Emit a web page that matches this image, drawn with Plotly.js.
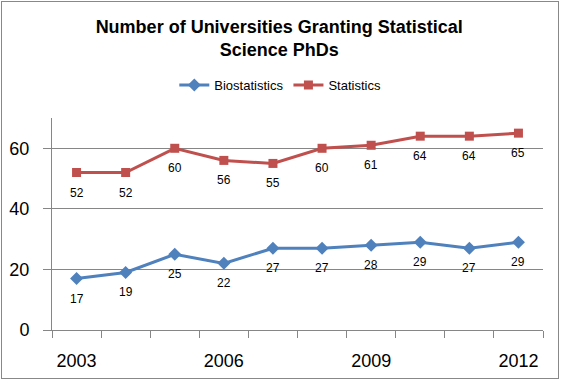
<!DOCTYPE html>
<html>
<head>
<meta charset="utf-8">
<script src="https://cdn.plot.ly/plotly-3.0.1.min.js"></script>
<style>
  html, body { margin: 0; padding: 0; background: #fff; }
  #wrap { position: relative; width: 564px; height: 383px; }
  #chart { position: absolute; left: 0; top: 0; width: 564px; height: 383px; }
  #frame { position: absolute; left: 1px; top: 1px; width: 556px; height: 376px;
           border: 1px solid #888888; pointer-events: none; }
</style>
</head>
<body>
<div id="wrap">
  <div id="chart"></div>
  <div id="frame"></div>
</div>
<script>
const years = [2003, 2004, 2005, 2006, 2007, 2008, 2009, 2010, 2011, 2012];
const biostatistics = [17, 19, 25, 22, 27, 27, 28, 29, 27, 29];
const statistics = [52, 52, 60, 56, 55, 60, 61, 64, 64, 65];
const xTickVals = [2003, 2006, 2009, 2012];
const xTickText = ['2003', '2006', '2009', '2012'];
const yTickVals = [0, 20, 40, 60];

const gray = '#868686';
const fontFam = 'Liberation Sans, Arial, sans-serif';
const boundaries = [years[0] - 0.5].concat(years.map(y => y + 0.5));

const traces = [
  {
    x: years, y: biostatistics, name: 'Biostatistics',
    type: 'scatter', mode: 'lines+markers',
    line: {color: '#4F81BD', width: 3},
    marker: {symbol: 'diamond', size: 10, color: '#4F81BD'}
  },
  {
    x: years, y: statistics, name: 'Statistics',
    type: 'scatter', mode: 'lines+markers',
    line: {color: '#C0504D', width: 3},
    marker: {symbol: 'square', size: 9, color: '#C0504D'}
  }
];

const labelAnn = (xs, ys) => xs.map((x, i) => ({
  x: x, y: ys[i], xref: 'x', yref: 'y', text: String(ys[i]),
  showarrow: false, yshift: -20, xanchor: 'center', yanchor: 'middle',
  font: {family: fontFam, size: 12, color: '#000'}
}));

const layout = {
  width: 564, height: 383,
  margin: {l: 52, r: 21, t: 118, b: 53, pad: 0},
  paper_bgcolor: '#fff', plot_bgcolor: '#fff',
  font: {family: fontFam, color: '#000'},
  title: {
    text: '<b>Number of Universities Granting Statistical<br>Science PhDs</b>',
    font: {family: fontFam, size: 18, color: '#000'},
    x: 0.495, xref: 'container', xanchor: 'center',
    y: 1 - 32.5 / 383, yref: 'container', yanchor: 'middle'
  },
  showlegend: true,
  legend: {
    orientation: 'h', x: 0.497, xref: 'container', xanchor: 'center',
    y: 1 - 85 / 383, yref: 'container', yanchor: 'middle',
    font: {size: 13, color: '#000'}, itemwidth: 30, tracegroupgap: 0
  },
  annotations: labelAnn(years, biostatistics).concat(labelAnn(years, statistics)),
  xaxis: {
    type: 'linear', range: [boundaries[0], boundaries[boundaries.length - 1]],
    tickmode: 'array', tickvals: xTickVals, ticktext: xTickText,
    ticks: '', ticklabelstandoff: 14,
    tickfont: {size: 18, color: '#000'},
    showgrid: false, zeroline: false,
    showline: true, linecolor: gray, linewidth: 1,
    minor: {tickmode: 'array', tickvals: boundaries, ticks: 'outside', ticklen: 7,
            tickcolor: gray, tickwidth: 1, showgrid: false}
  },
  yaxis: {
    range: [0, 70], tickmode: 'array', tickvals: yTickVals,
    ticks: 'outside', ticklen: 8, tickcolor: gray, tickwidth: 1,
    ticklabelstandoff: 10,
    tickfont: {size: 18, color: '#000'},
    showgrid: true, gridcolor: gray, gridwidth: 1, zeroline: false,
    showline: true, linecolor: gray, linewidth: 1
  }
};

Plotly.newPlot('chart', traces, layout, {staticPlot: true, displayModeBar: false});
</script>
</body>
</html>
